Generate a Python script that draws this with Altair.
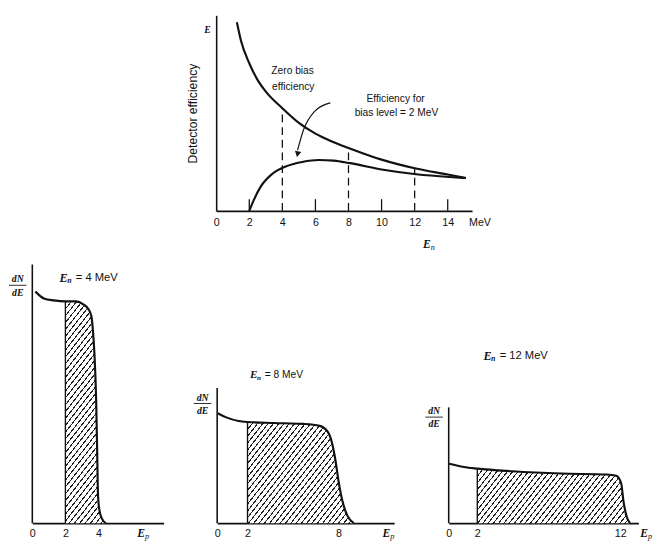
import math
import altair as alt
import pandas as pd

INK = "#111111"
HATCH = "#222222"
SANS = "Liberation Sans"
SERIF = "Liberation Serif"

# ---------------- top panel: detector efficiency vs neutron energy ----------------
zero_E = [1.25, 1.5, 2.0, 2.5, 3.0, 4.0, 5.0, 6.0, 7.0, 8.0, 10.0, 12.0, 14.0, 15.1]
zero_eff = [0.965, 0.87, 0.755, 0.67, 0.61, 0.525, 0.45, 0.395, 0.355, 0.322, 0.262, 0.218, 0.186, 0.168]
bias_E = [2.0, 2.3, 2.7, 3.4, 4.2, 5.2, 6.2, 7.1, 8.1, 10.1, 12.1, 14.1, 15.1]
bias_eff = [0.0, 0.06, 0.125, 0.19, 0.227, 0.25, 0.26, 0.257, 0.244, 0.21, 0.187, 0.173, 0.168]
dash_E = [4, 8, 12]
dash_top = [0.52, 0.325, 0.22]
tick_E = [2, 6, 10, 14]
tick_top = [0.06, 0.06, 0.06, 0.06]
top_labels = [0, 2, 4, 6, 8, 10, 12, 14]
arrow_E = [6.9, 5.95, 5.26, 4.92]
arrow_eff = [0.552, 0.509, 0.41, 0.31]
ann_text = ["Zero bias", "efficiency", "Efficiency for", "bias level = 2 MeV"]
ann_E = [4.62, 4.66, 10.85, 10.9]
ann_eff = [0.716, 0.633, 0.57, 0.50]

# ---------------- bottom panels: recoil proton spectra dN/dE vs Ep ----------------
H_BOT = 266  # y units of the spectra panels
p1_E = [0.19, 0.7, 1.3, 2.0, 2.65, 3.08, 3.39, 3.57, 3.66, 3.75, 3.86, 3.92, 3.97, 4.05, 4.2, 4.45]
p1_N = [238, 231, 229, 228, 228, 225, 220, 213, 199, 176, 126, 75, 30, 14, 5, 0]
p1_labels = [0, 2, 4]
p1_axis_top = 266

p2_E = [0.03, 0.56, 1.41, 2.0, 3.76, 5.68, 6.75, 7.28, 7.56, 7.78, 8.0, 8.25, 8.57, 9.0]
p2_N = [113, 109, 105, 104, 103, 102, 100, 94, 83, 66, 43, 23, 8, 0]
p2_labels = [0, 2, 8]
p2_axis_top = 139

p3_E = [0.03, 1.07, 2.0, 4.47, 7.87, 11.04, 11.72, 12.06, 12.22, 12.4, 12.67]
p3_N = [61, 57.7, 56, 53.3, 51, 50, 48.7, 41, 22.7, 9, 0]
p3_labels = [0, 2, 12]
p3_axis_top = 119


def one(**cols):
    return pd.DataFrame({k: [v] for k, v in cols.items()})


def hatch_fill(w_px, h_px, angle=52.0, period=4.3, frac=0.25):
    a = math.radians(angle)
    s, c = math.sin(a), math.cos(a)
    D = w_px * s + h_px * c
    k = D / (w_px ** 2 * s ** 2 + h_px ** 2 * c ** 2)
    du, dv = k * w_px * s, k * h_px * c
    n = max(1, int(round(D / period)))
    stops = []
    for i in range(n):
        o0, o1, o2 = i / n, (i + frac) / n, min((i + 1) / n, 1.0)
        stops += [
            alt.GradientStop(offset=o0, color=HATCH),
            alt.GradientStop(offset=o1, color=HATCH),
            alt.GradientStop(offset=o1, color="white"),
            alt.GradientStop(offset=o2, color="white"),
        ]
    return alt.Gradient(gradient="linear", stops=stops, x1=0, y1=0, x2=du, y2=dv)


# ---------------- top chart ----------------
SX_TOP = 17.0
TOP_W, TOP_H = 263, 201
xs_t = alt.Scale(domain=[0, TOP_W / SX_TOP], nice=False, zero=False)
ys_t = alt.Scale(domain=[0, 1], nice=False, zero=False)
ax_tx = alt.Axis(values=top_labels, title=None, ticks=False, grid=False, labelPadding=6,
                 labelFontSize=11, labelFont=SANS, labelColor=INK, labelFlush=False,
                 domainColor=INK, domainWidth=1.6, format="d")
ax_ty = alt.Axis(title="Detector efficiency", labels=False, ticks=False, grid=False,
                 domainColor=INK, domainWidth=1.6, titleFont=SANS, titleFontSize=12.5,
                 titleFontWeight="normal", titleColor=INK, titlePadding=17)


def tx(f):
    return alt.X(f, scale=xs_t, axis=ax_tx)


def ty(f):
    return alt.Y(f, scale=ys_t, axis=ax_ty)


zero_df = pd.DataFrame({"E": zero_E, "eff": zero_eff})
bias_df = pd.DataFrame({"E": bias_E, "eff": bias_eff})
dash_df = pd.DataFrame({"E": dash_E, "lo": [0] * len(dash_E), "hi": dash_top})
tick_df = pd.DataFrame({"E": tick_E, "lo": [0] * len(tick_E), "hi": tick_top})
arrow_df = pd.DataFrame({"E": arrow_E, "eff": arrow_eff})
ann_df = pd.DataFrame({"E": ann_E, "eff": ann_eff, "t": ann_text})

top_layers = [
    alt.Chart(dash_df).mark_rule(color=INK, strokeWidth=1.3, strokeDash=[8, 5]).encode(
        x=tx("E:Q"), y=ty("lo:Q"), y2="hi:Q"),
    alt.Chart(tick_df).mark_rule(color=INK, strokeWidth=1.3).encode(
        x=tx("E:Q"), y=ty("lo:Q"), y2="hi:Q"),
    alt.Chart(zero_df).mark_line(color=INK, strokeWidth=2.2, interpolate="monotone").encode(
        x=tx("E:Q"), y=ty("eff:Q")),
    alt.Chart(bias_df).mark_line(color=INK, strokeWidth=2.2, interpolate="monotone").encode(
        x=tx("E:Q"), y=ty("eff:Q")),
    alt.Chart(arrow_df).mark_line(color=INK, strokeWidth=1.2, interpolate="monotone").encode(
        x=tx("E:Q"), y=ty("eff:Q")),
    alt.Chart(one(E=arrow_E[-1], eff=arrow_eff[-1] - 0.02)).mark_point(
        shape="triangle-down", filled=True, color=INK, size=45, angle=12, opacity=1).encode(
        x=tx("E:Q"), y=ty("eff:Q")),
    alt.Chart(ann_df).mark_text(font=SANS, fontSize=10.5, color=INK).encode(
        x=tx("E:Q"), y=ty("eff:Q"), text="t:N"),
    alt.Chart(one(E=-0.52, eff=0.924, t="E")).mark_text(
        font=SERIF, fontStyle="italic", fontWeight="bold", fontSize=10, color=INK).encode(
        x=tx("E:Q"), y=ty("eff:Q"), text="t:N"),
    alt.Chart(one(E=15.95, eff=-0.06, t="MeV")).mark_text(
        font=SANS, fontSize=11, color=INK).encode(x=tx("E:Q"), y=ty("eff:Q"), text="t:N"),
    alt.Chart(one(E=12.5, eff=-0.169, t="E")).mark_text(
        font=SERIF, fontStyle="italic", fontWeight="bold", fontSize=12, color=INK, align="left").encode(
        x=tx("E:Q"), y=ty("eff:Q"), text="t:N"),
    alt.Chart(one(E=12.5, eff=-0.169, t="n")).mark_text(
        font=SERIF, fontStyle="italic", fontSize=8.5, color=INK, align="left", dx=8, dy=3).encode(
        x=tx("E:Q"), y=ty("eff:Q"), text="t:N"),
]
top_chart = alt.layer(*top_layers).properties(width=TOP_W, height=TOP_H)

spacer = alt.Chart(one(v=0.5)).mark_point(opacity=0, size=1).encode(
    x=alt.X("v:Q", axis=None, scale=alt.Scale(domain=[0, 1])),
    y=alt.Y("v:Q", axis=None, scale=alt.Scale(domain=[0, 1]))).properties(width=159, height=10)


# ---------------- bottom panels ----------------
def spectrum(E, N, axis_top, labels, sx, width, en_text, t_x, t_y, t_fs, dn_y, ep_x):
    xs = alt.Scale(domain=[0, width / sx], nice=False, zero=False)
    ys = alt.Scale(domain=[0, H_BOT], nice=False, zero=False)
    ax = alt.Axis(values=labels, title=None, ticks=False, grid=False, labelPadding=5,
                  labelFontSize=11, labelFont=SANS, labelColor=INK, labelFlush=False,
                  domainColor=INK, domainWidth=1.6, format="d")

    def X(f):
        return alt.X(f, scale=xs, axis=ax)

    def Y(f):
        return alt.Y(f, scale=ys, axis=None)

    df = pd.DataFrame({"E": E, "N": N})
    adf = df[df["E"] >= 2].copy()
    adf["z"] = 0
    w_px = (adf["E"].max() - 2) * sx
    h_px = adf["N"].max()
    n_at_2 = float(adf[adf["E"] == 2]["N"].iloc[0])

    layers = [
        alt.Chart(adf).mark_area(fill=hatch_fill(w_px, h_px), interpolate="monotone",
                                 opacity=1).encode(x=X("E:Q"), y=Y("N:Q"), y2="z:Q"),
        alt.Chart(df).mark_line(color=INK, strokeWidth=2.2, interpolate="monotone").encode(
            x=X("E:Q"), y=Y("N:Q")),
        alt.Chart(one(E=2, lo=0, hi=n_at_2)).mark_rule(color=INK, strokeWidth=1.4).encode(
            x=X("E:Q"), y=Y("lo:Q"), y2="hi:Q"),
        alt.Chart(one(E=0, lo=0, hi=axis_top)).mark_rule(color=INK, strokeWidth=1.6).encode(
            x=X("E:Q"), y=Y("lo:Q"), y2="hi:Q"),
        # dN/dE fraction
        alt.Chart(one(E=0, y=dn_y[0], t="dN")).mark_text(
            font=SERIF, fontStyle="italic", fontWeight="bold", fontSize=10, color=INK, dx=-15).encode(
            x=X("E:Q"), y=Y("y:Q"), text="t:N"),
        alt.Chart(one(E=0, y=dn_y[1])).mark_rule(color=INK, strokeWidth=0.9, xOffset=-24, x2Offset=-6).encode(
            x=X("E:Q"), x2="E:Q", y=Y("y:Q")),
        alt.Chart(one(E=0, y=dn_y[2], t="dE")).mark_text(
            font=SERIF, fontStyle="italic", fontWeight="bold", fontSize=10, color=INK, dx=-15).encode(
            x=X("E:Q"), y=Y("y:Q"), text="t:N"),
        # E_n = ... MeV
        alt.Chart(one(E=t_x, y=t_y, t="E")).mark_text(
            font=SERIF, fontStyle="italic", fontWeight="bold", fontSize=t_fs + 1, color=INK, align="left").encode(
            x=X("E:Q"), y=Y("y:Q"), text="t:N"),
        alt.Chart(one(E=t_x, y=t_y, t="n")).mark_text(
            font=SERIF, fontStyle="italic", fontWeight="bold", fontSize=t_fs * 0.7, color=INK, align="left",
            dx=t_fs * 0.68, dy=t_fs * 0.3).encode(x=X("E:Q"), y=Y("y:Q"), text="t:N"),
        alt.Chart(one(E=t_x, y=t_y, t=en_text)).mark_text(
            font=SANS, fontSize=t_fs, color=INK, align="left", dx=t_fs * 1.45).encode(
            x=X("E:Q"), y=Y("y:Q"), text="t:N"),
        # E_p axis label
        alt.Chart(one(E=ep_x, y=-10.5, t="E")).mark_text(
            font=SERIF, fontStyle="italic", fontWeight="bold", fontSize=12, color=INK, align="left").encode(
            x=X("E:Q"), y=Y("y:Q"), text="t:N"),
        alt.Chart(one(E=ep_x, y=-10.5, t="p")).mark_text(
            font=SERIF, fontStyle="italic", fontSize=8.5, color=INK, align="left", dx=8, dy=3).encode(
            x=X("E:Q"), y=Y("y:Q"), text="t:N"),
    ]
    return alt.layer(*layers).properties(width=width, height=H_BOT)


p1 = spectrum(p1_E, p1_N, p1_axis_top, p1_labels, 17.0, 135, "=  4 MeV", 1.65, 252, 11.5,
              [251, 244.5, 237], 6.35)
p2 = spectrum(p2_E, p2_N, p2_axis_top, p2_labels, 15.6, 182, "=  8 MeV", 2.16, 152, 10.5,
              [129, 123, 115], 10.9)
p3 = spectrum(p3_E, p3_N, p3_axis_top, p3_labels, 14.7, 195, "=  12 MeV", 2.43, 172, 11.5,
              [115, 109, 102], 13.4)

row1 = alt.hconcat(spacer, top_chart, spacing=0)
row2 = alt.hconcat(p1, p2, p3, spacing=30)

chart = alt.vconcat(row1, row2, spacing=12).properties(
    padding={"left": 0, "top": 0, "right": 0, "bottom": 0},
    background="white",
).configure_view(stroke=None)

chart.save("out.html", embed_options={"renderer": "svg", "actions": False})
